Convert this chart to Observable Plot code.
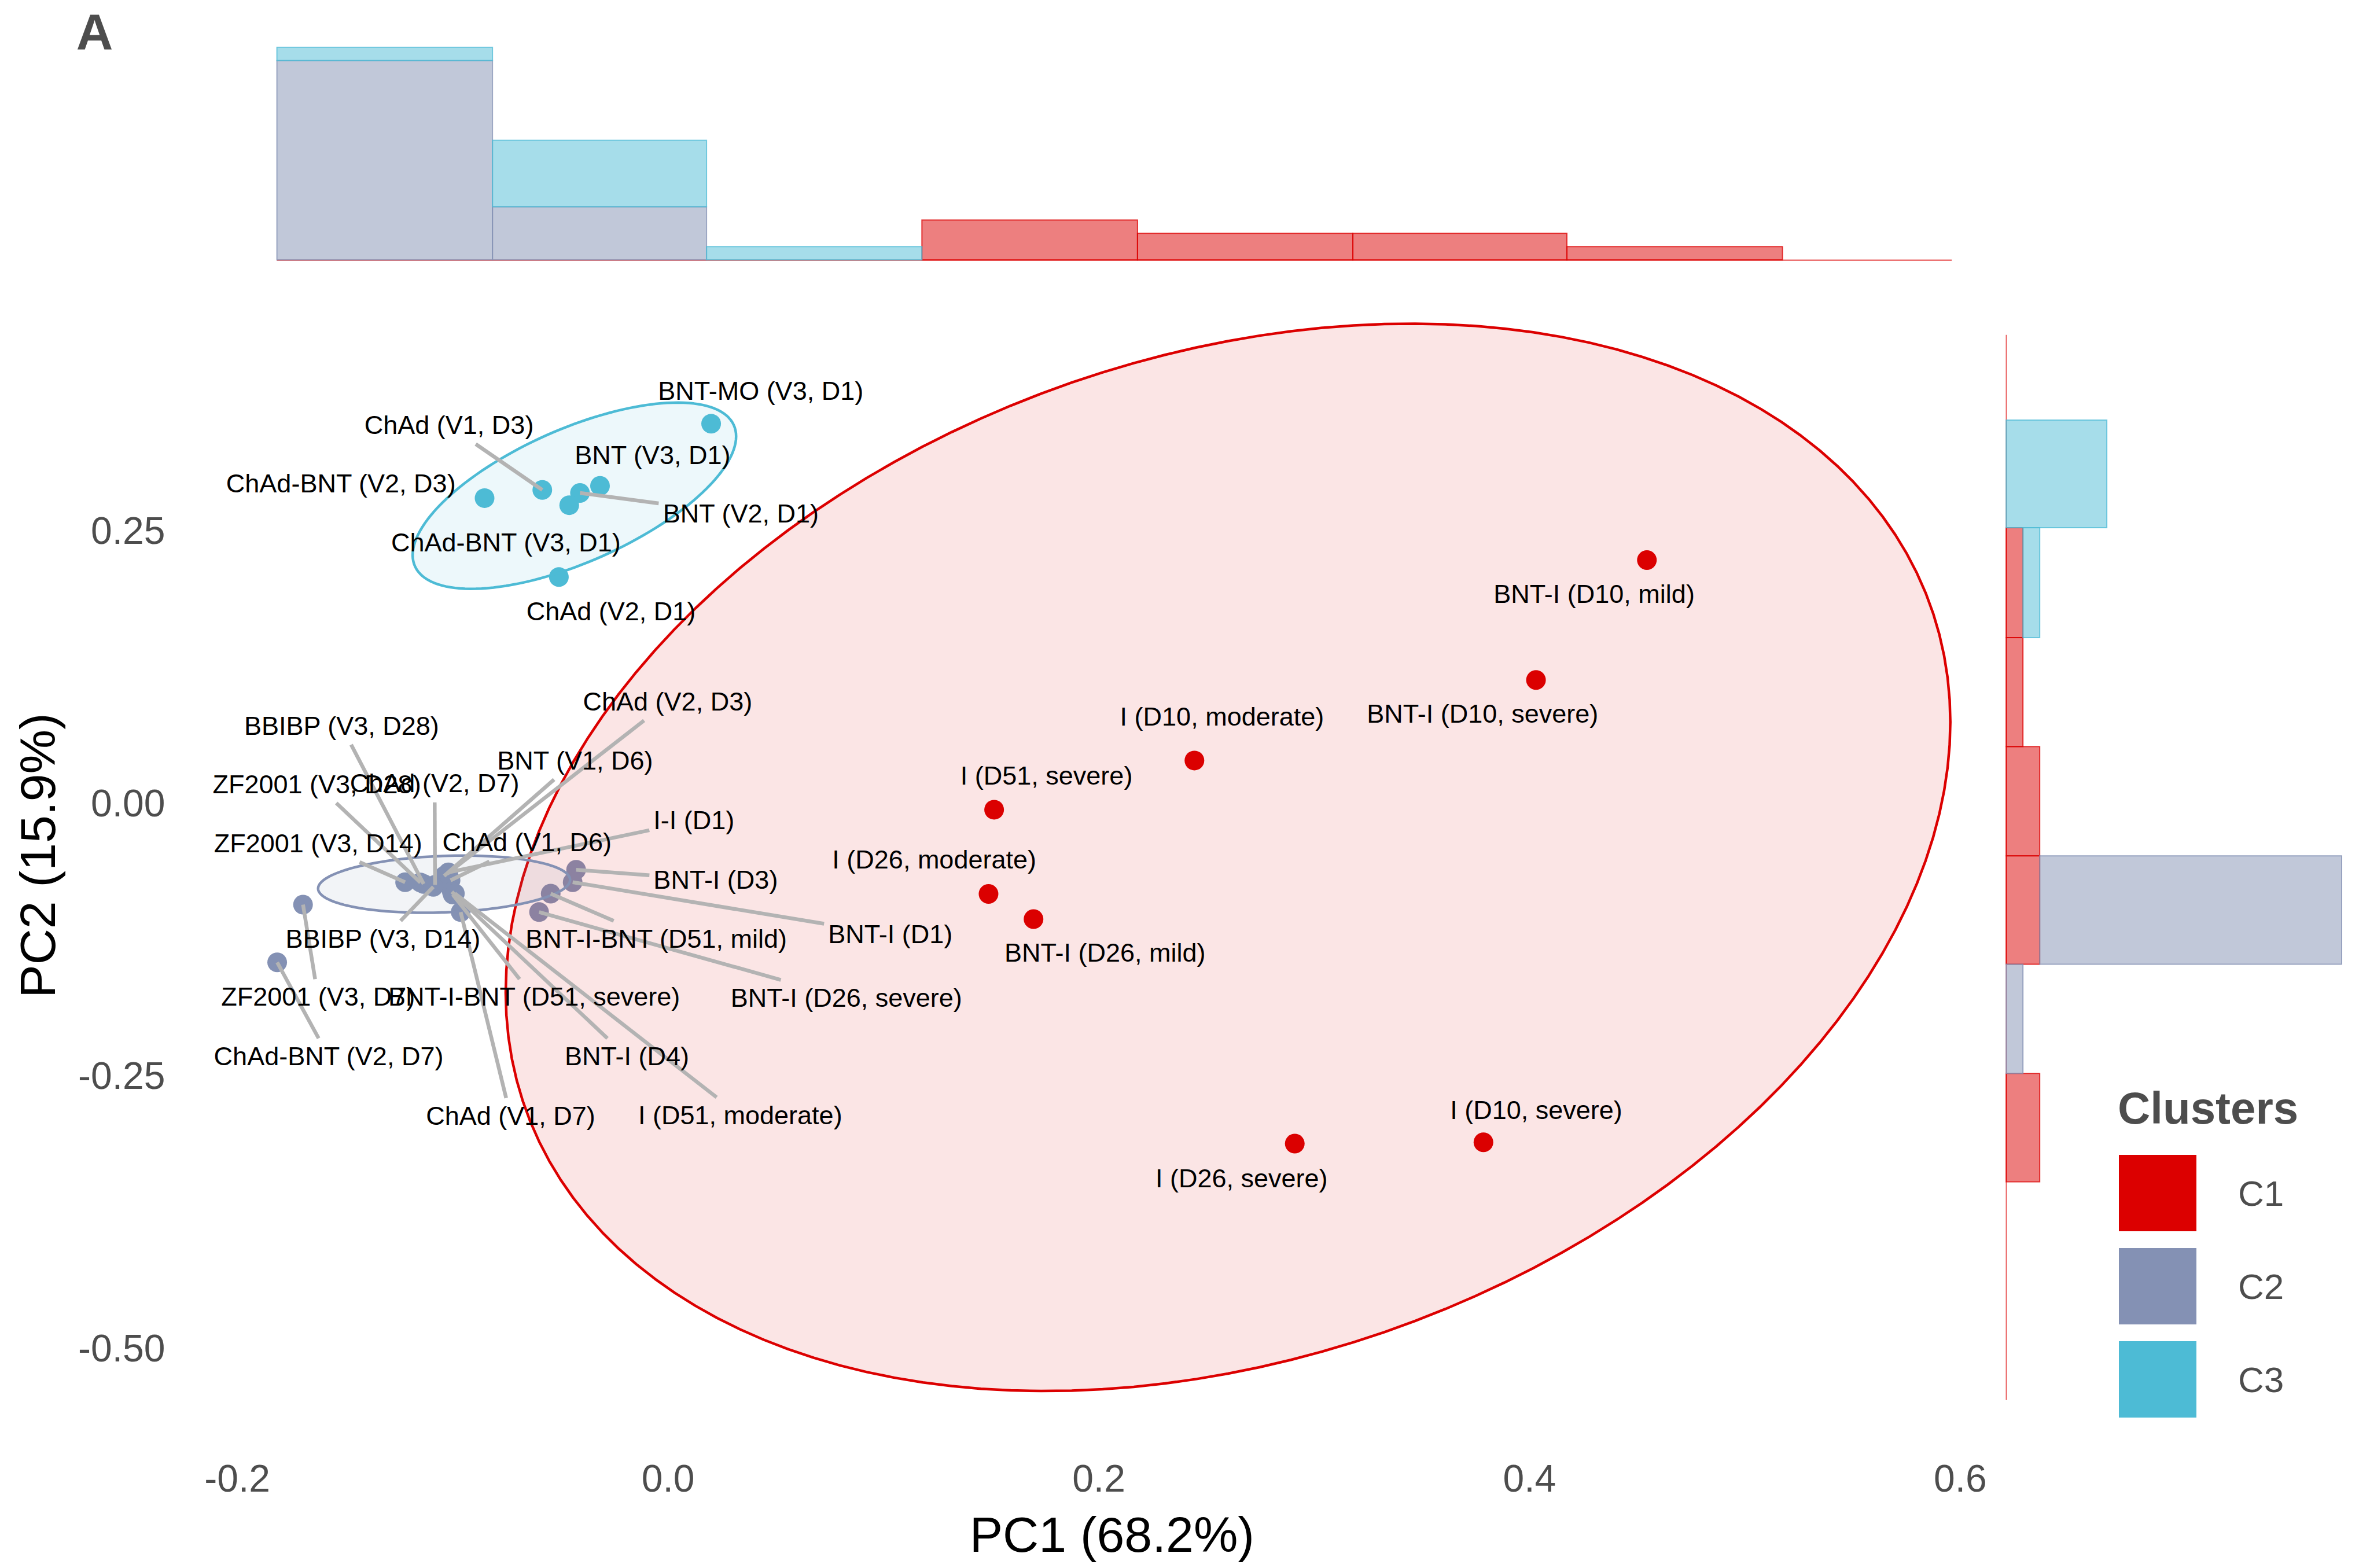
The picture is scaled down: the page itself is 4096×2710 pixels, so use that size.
<!DOCTYPE html>
<html><head><meta charset="utf-8">
<script src="https://cdn.jsdelivr.net/npm/d3@7"></script>
<script src="https://cdn.jsdelivr.net/npm/@observablehq/plot@0.6"></script>
<style>
html,body{margin:0;padding:0;background:#fff;}
#wrap{position:relative;width:4096px;height:2710px;overflow:hidden;font-family:'Liberation Sans',Arial,sans-serif;}
#wrap svg{position:absolute;left:0;top:0;}
.lg{position:absolute;white-space:nowrap;line-height:1;}
</style></head><body><div id="wrap"></div>
<script>
// ---------------- data ----------------
const clusters = ["C1", "C2", "C3"];
const clusterColors = ["#DC0000", "#8491B4", "#4DBBD5"];

const sampleNames = [
  "BNT-I (D10, mild)", "BNT-I (D10, severe)", "I (D10, moderate)", "I (D51, severe)",
  "I (D26, moderate)", "BNT-I (D26, mild)", "I (D26, severe)", "I (D10, severe)",
  "ChAd (V2, D3)", "BBIBP (V3, D28)", "BNT (V1, D6)", "ZF2001 (V3, D28)", "ChAd (V2, D7)",
  "I-I (D1)", "ZF2001 (V3, D14)", "ChAd (V1, D6)", "BNT-I (D3)", "BNT-I-BNT (D51, mild)",
  "BBIBP (V3, D14)", "BNT-I (D1)", "ZF2001 (V3, D7)", "BNT-I-BNT (D51, severe)",
  "BNT-I (D26, severe)", "ChAd-BNT (V2, D7)", "BNT-I (D4)", "ChAd (V1, D7)", "I (D51, moderate)",
  "BNT-MO (V3, D1)", "ChAd (V1, D3)", "BNT (V3, D1)", "BNT (V2, D1)", "ChAd-BNT (V3, D1)",
  "ChAd-BNT (V2, D3)", "ChAd (V2, D1)"
];
const sampleCluster = [
  "C1","C1","C1","C1","C1","C1","C1","C1",
  "C2","C2","C2","C2","C2","C2","C2","C2","C2","C2","C2","C2","C2","C2","C2","C2","C2","C2","C2",
  "C3","C3","C3","C3","C3","C3","C3"
];
const pc1 = [
  0.4545, 0.4030, 0.2444, 0.1514, 0.1488, 0.1697, 0.2910, 0.3786,
  -0.1025, -0.1135, -0.1040, -0.1150, -0.1082, -0.1020, -0.1221, -0.1010, -0.0427, -0.0545,
  -0.1090, -0.0443, -0.1695, -0.1000, -0.0599, -0.1815, -0.1004, -0.0963, -0.0990,
  0.0200, -0.0584, -0.0316, -0.0409, -0.0459, -0.0852, -0.0507
];
const pc2 = [
  0.2237, 0.1137, 0.0399, -0.0052, -0.0825, -0.1055, -0.3114, -0.3102,
  -0.0640, -0.0733, -0.0660, -0.0720, -0.0741, -0.0627, -0.0717, -0.0700, -0.0603, -0.0822,
  -0.0760, -0.0717, -0.0923, -0.0830, -0.0991, -0.1452, -0.0805, -0.0991, -0.0820,
  0.3487, 0.2880, 0.2917, 0.2852, 0.2740, 0.2805, 0.2081
];
// label positions (repelled), in PC units
const labelPc1 = [
  0.4300, 0.3782, 0.2572, 0.1757, 0.1236, 0.2029, 0.2663, 0.4031,
  -0.0002, -0.1516, -0.0432, -0.1631, -0.1084, 0.0120, -0.1625, -0.0655, 0.0221, -0.0055,
  -0.1324, 0.1032, -0.1625, -0.0622, 0.0828, -0.1576, -0.0191, -0.0731, 0.0335,
  0.0430, -0.1017, -0.0072, 0.0338, -0.0753, -0.1519, -0.0265
];
const labelPc2 = [
  0.1920, 0.0820, 0.0796, 0.0255, -0.0514, -0.1368, -0.3438, -0.2812,
  0.0934, 0.0713, 0.0393, 0.0177, 0.0184, -0.0155, -0.0364, -0.0358, -0.0699, -0.1240,
  -0.1240, -0.1198, -0.1774, -0.1774, -0.1781, -0.2317, -0.2317, -0.2865, -0.2858,
  0.3785, 0.3469, 0.3193, 0.2657, 0.2392, 0.2935, 0.1759
];
// whether a leader segment is visible
const hasSegment = [
  0,0,0,0,0,0,0,0,
  1,1,1,1,1,1,1,1,1,1,1,1,1,1,1,1,1,1,1,
  0,1,0,1,0,0,0
];

// cluster ellipses: x = cx + a cos t ; y = cy + b cos t + c sin t
const ellipseCx = [0.2600, -0.1040, -0.0435];
const ellipseCy = [-0.0489, -0.0735, 0.2827];
const ellipseA = [0.3354, 0.0585, 0.0751];
const ellipseB = [0.1240, 0.0040, 0.0544];
const ellipseC = [0.4734, 0.0259, 0.0658];

// marginal histograms (stacked counts)
const topEdges = [-0.1815, -0.0814, 0.0180, 0.1180, 0.2181, 0.3181, 0.4175, 0.5176, 0.5962];
const topCounts = [
  [0, 0, 0, 3, 2, 2, 1, 0],   // C1
  [15, 4, 0, 0, 0, 0, 0, 0],  // C2
  [1, 5, 1, 0, 0, 0, 0, 0]    // C3
];
const rightEdges = [-0.3467, -0.2473, -0.1472, -0.0478, 0.0524, 0.1523, 0.2531, 0.3518];
const rightCounts = [
  [2, 0, 2, 2, 1, 1, 0],   // C1
  [0, 1, 18, 0, 0, 0, 0],  // C2
  [0, 0, 0, 0, 0, 1, 6]    // C3
];

const xTicks = [-0.2, 0, 0.2, 0.4, 0.6];
const yTicks = [-0.5, -0.25, 0, 0.25];
const xTitle = "PC1 (68.2%)";
const yTitle = "PC2 (15.9%)";
const panelTag = "A";
const legendTitle = "Clusters";

// ---------------- layout ----------------
const W = 4096, H = 2710;
const ML = 404, MR = 657.3, MT = 578.8, MB = 290.3;
const xDomain = [-0.20153, 0.6138];
const yDomain = [-0.5468, 0.4299];
const FONT = "'Liberation Sans', Arial, sans-serif";
const labelFont = 45;

const samples = sampleNames.map((name, i) => ({
  name, cluster: sampleCluster[i], x: pc1[i], y: pc2[i],
  lx: labelPc1[i], ly: labelPc2[i], seg: hasSegment[i]
}));

const ellipsePts = clusters.flatMap((c, i) => d3.range(0, 145).map(k => {
  const t = 2 * Math.PI * k / 144;
  return {cluster: c,
    x: ellipseCx[i] + ellipseA[i] * Math.cos(t),
    y: ellipseCy[i] + ellipseB[i] * Math.cos(t) + ellipseC[i] * Math.sin(t)};
}));

// leader segments: from label box edge to the point
const xs = d3.scaleLinear(xDomain, [ML, W - MR]);
const ys = d3.scaleLinear(yDomain, [H - MB, MT]);
const ctx = document.createElement("canvas").getContext("2d");
ctx.font = `${labelFont}px ${FONT}`;
const pad = 7;
const segments = samples.filter(d => d.seg).map(d => {
  const Lx = xs(d.lx), Ly = ys(d.ly), Px = xs(d.x), Py = ys(d.y);
  const hw = ctx.measureText(d.name).width / 2 + pad, hh = labelFont * 0.55 + pad;
  const dx = Px - Lx, dy = Py - Ly;
  const t = Math.min(dx ? hw / Math.abs(dx) : Infinity, dy ? hh / Math.abs(dy) : Infinity);
  if (t >= 1) return null;
  return {x1: xs.invert(Lx + t * dx), y1: ys.invert(Ly + t * dy), x2: d.x, y2: d.y};
}).filter(Boolean);

const topData = [];
clusters.forEach((c, i) => topCounts[i].forEach((n, k) => {
  if (n > 0) topData.push({cluster: c, x1: topEdges[k], x2: topEdges[k + 1], n});
}));
const rightData = [];
clusters.forEach((c, i) => rightCounts[i].forEach((n, k) => {
  if (n > 0) rightData.push({cluster: c, y1: rightEdges[k], y2: rightEdges[k + 1], n});
}));

const svgStyle = {background: "transparent", overflow: "visible", fontFamily: FONT, maxWidth: "none"};
const color = {domain: clusters, range: clusterColors};

const main = Plot.plot({
  width: W, height: H, marginLeft: ML, marginRight: MR, marginTop: MT, marginBottom: MB,
  x: {domain: xDomain}, y: {domain: yDomain}, color, style: svgStyle,
  marks: [
    Plot.axisX({ticks: xTicks, tickSize: 0, tickPadding: 111, fontSize: 66, color: "#4D4D4D",
      tickFormat: d => d.toFixed(1), label: null}),
    Plot.axisY({ticks: yTicks, tickSize: 0, tickPadding: 119, fontSize: 66, color: "#4D4D4D",
      tickFormat: d => d.toFixed(2), label: null}),
    Plot.dot(samples, {x: "x", y: "y", fill: "cluster", r: 17}),
    Plot.line(ellipsePts, {x: "x", y: "y", z: "cluster", fill: "cluster", stroke: "cluster",
      fillOpacity: 0.1, strokeWidth: 4.5, curve: "linear-closed"}),
    Plot.link(segments, {x1: "x1", y1: "y1", x2: "x2", y2: "y2", stroke: "#B3B3B3", strokeWidth: 6.5}),
    Plot.text(samples, {x: "lx", y: "ly", text: "name", fontSize: labelFont, fill: "black"}),
    Plot.text([xTitle], {text: d => d, frameAnchor: "bottom", lineAnchor: "middle", dy: 234, fontSize: 86, fill: "black"}),
    Plot.text([yTitle], {text: d => d, frameAnchor: "left", textAnchor: "middle", lineAnchor: "middle",
      rotate: -90, dx: 67 - ML, dy: 1478 - (MT + (H - MT - MB) / 2), fontSize: 86, fill: "black"}),
    Plot.text([panelTag], {text: d => d, frameAnchor: "top-left", textAnchor: "middle", lineAnchor: "middle",
      dx: 163 - ML, dy: 56 - MT, fontSize: 88, fontWeight: "bold", fill: "#4D4D4D"})
  ]
});

const topHist = Plot.plot({
  width: W, height: H, marginLeft: ML, marginRight: MR, marginTop: 81.8, marginBottom: H - 449.2,
  x: {domain: xDomain, axis: null}, y: {domain: [0, 16], axis: null}, color, style: svgStyle,
  marks: [
    Plot.ruleY([0], {x1: topEdges[0], x2: topEdges[topEdges.length - 1], stroke: clusterColors[0],
      strokeOpacity: 0.55, strokeWidth: 2.5}),
    Plot.rectY(topData, {x1: "x1", x2: "x2", y: "n", fill: "cluster", stroke: "cluster",
      fillOpacity: 0.5, strokeOpacity: 0.75, strokeWidth: 2})
  ]
});

const rightHist = Plot.plot({
  width: W, height: H, marginLeft: 3467.2, marginRight: W - (3467.2 + 20 * 28.99), marginTop: MT, marginBottom: MB,
  x: {domain: [0, 20], axis: null}, y: {domain: yDomain, axis: null}, color, style: svgStyle,
  marks: [
    Plot.ruleX([0], {y1: yDomain[0], y2: yDomain[1], stroke: clusterColors[0], strokeOpacity: 0.55, strokeWidth: 2.5}),
    Plot.rectX(rightData, {y1: "y1", y2: "y2", x: "n", fill: "cluster", stroke: "cluster",
      fillOpacity: 0.5, strokeOpacity: 0.75, strokeWidth: 2})
  ]
});

const wrap = document.getElementById("wrap");
wrap.appendChild(main);
wrap.appendChild(topHist);
wrap.appendChild(rightHist);

// legend
function addDiv(text, css) {
  const d = document.createElement("div");
  d.className = "lg";
  d.textContent = text;
  Object.assign(d.style, css);
  wrap.appendChild(d);
  return d;
}
addDiv(legendTitle, {left: "3660px", top: (1914 - 0.488 * 78) + "px", fontSize: "78px", fontWeight: "bold", color: "#4D4D4D"});
const keyTops = [1996, 2157, 2318];
clusters.forEach((c, i) => {
  addDiv("", {left: "3662px", top: keyTops[i] + "px", width: "134px", height: "132px", background: clusterColors[i]});
  addDiv(c, {left: "3868px", top: (keyTops[i] + 66 - 0.488 * 62) + "px", fontSize: "62px", color: "#4D4D4D"});
});
</script>
</body></html>
